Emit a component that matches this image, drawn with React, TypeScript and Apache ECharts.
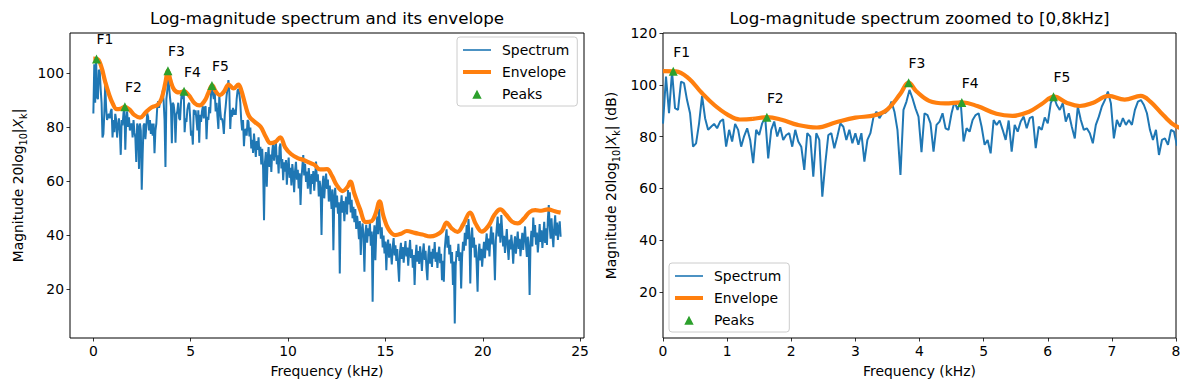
import React, { useEffect, useRef } from 'react';
import * as echarts from 'echarts';

const FONT = 'DejaVu Sans';

// FFT bin spacing: 48 kHz sampling, 1024-point FFT
const binWidthKHz = 48 / 1024;

// Log-magnitude spectrum, one value per FFT bin (0 .. 24 kHz)
const spectrumDb = [
  85.0, 103.2, 89.0, 105.1, 91.0, 90.3, 101.2, 100.6, 94.1, 89.0,
  76.1, 77.4, 85.1, 95.7, 87.1, 82.6, 83.8, 84.9, 83.2, 85.8,
  86.7, 76.1, 82.6, 78.1, 84.9, 82.6, 76.1, 80.2, 83.2, 78.7,
  69.7, 82.6, 80.6, 85.1, 87.4, 71.6, 82.6, 85.8, 80.0, 83.6,
  78.7, 80.6, 81.3, 76.1, 82.6, 78.1, 76.1, 67.1, 81.3, 80.0,
  64.5, 81.3, 78.7, 56.8, 69.7, 80.6, 81.3, 75.5, 80.0, 85.1,
  83.8, 78.7, 82.6, 77.4, 81.3, 76.8, 81.3, 70.3, 78.7, 81.3,
  87.4, 89.6, 87.1, 89.0, 89.2, 90.3, 93.5, 89.6, 82.6, 65.2,
  90.3, 93.5, 98.0, 94.8, 90.9, 87.7, 74.0, 89.0, 88.3, 85.1,
  74.2, 84.5, 85.8, 89.0, 83.2, 82.6, 89.0, 93.5, 90.3, 93.9,
  78.1, 83.2, 81.9, 86.4, 88.3, 89.0, 83.8, 76.8, 78.7, 73.5,
  86.4, 84.5, 86.2, 82.6, 78.7, 86.2, 74.2, 84.5, 81.9, 85.8,
  87.7, 83.2, 87.1, 87.7, 75.5, 83.8, 82.6, 87.4, 85.1, 92.9,
  95.4, 92.2, 90.3, 92.9, 85.8, 89.0, 83.8, 79.3, 91.6, 86.4,
  82.6, 83.2, 81.3, 77.4, 84.5, 87.7, 91.6, 94.1, 97.4, 92.9,
  79.3, 86.4, 83.8, 87.1, 84.5, 86.4, 84.5, 90.3, 93.5, 94.1,
  92.2, 89.0, 82.6, 78.7, 82.6, 72.9, 78.7, 79.3, 76.8, 82.6,
  81.9,
  76.5, 79.8, 72.1, 75.3, 70.4, 77.6, 73.2, 68.9, 74.8, 71.5,
  76.2, 69.3, 72.7, 66.1, 71.9, 64.5, 45.5, 66.8, 70.7, 57.9,
  68.4, 72.6, 65.2, 69.8, 63.4, 70.9, 74.1, 67.5, 71.3, 74.6,
  66.2, 69.5, 62.8, 72.4, 73.9, 64.7, 68.1, 60.3, 66.9, 63.5,
  67.8, 58.6, 65.3, 68.7, 61.2, 64.9, 58.4, 66.3, 62.7, 55.9,
  63.8, 67.1, 60.5, 64.2, 57.3, 62.9, 51.1, 60.8, 65.4, 69.6,
  62.1, 66.4, 59.7, 63.5, 57.2, 64.8, 60.3, 55.1, 62.6, 58.9,
  63.7, 56.4, 61.2, 67.2, 59.8, 62.5, 54.3, 60.1, 56.7, 40.0,
  58.2, 61.9, 53.6, 59.4, 62.8, 57.1, 60.6, 52.4, 58.3, 55.0,
  49.7, 56.9, 34.4, 53.8, 57.5, 50.2, 54.6, 47.9, 52.1, 25.8,
  50.4, 54.7, 48.3, 52.6, 45.1, 50.9, 54.2, 47.6, 56.7, 51.3,
  55.8, 48.4, 53.1, 46.2, 50.5, 44.8, 49.6, 42.3, 47.1, 43.9,
  38.5, 45.2, 32.6, 41.7, 44.3, 38.9, 26.4, 40.6, 43.8, 37.2,
  42.5, 39.6, 44.7, 36.1, 41.3, 15.3, 38.4, 43.6, 30.7, 41.2,
  46.9, 40.3, 49.8, 44.1, 38.7, 42.9, 35.4, 39.8, 33.2, 37.6,
  27.0, 35.9, 38.3, 31.6, 36.8, 33.4, 29.1, 35.7, 38.9, 32.5,
  36.2, 30.4, 34.8, 28.3, 22.7, 33.9, 37.1, 31.2, 35.6, 29.8,
  34.3, 37.8, 32.1, 35.4, 28.7, 33.9, 38.2, 31.5, 34.7, 27.9,
  32.6, 21.5, 31.8, 36.4, 30.2, 34.1, 29.3, 35.8, 32.4, 26.7,
  33.5, 36.9, 30.8, 34.2, 27.5, 23.3, 32.7, 36.1, 29.4, 33.8,
  28.2, 34.9, 31.3, 37.4, 30.1, 33.6, 27.8, 32.9, 35.7, 29.6,
  33.1, 23.3, 30.5, 22.7, 34.6, 38.9, 42.1, 35.3, 39.7, 32.8,
  36.4, 29.5, 33.7, 21.5, 30.2, 7.3, 28.6, 34.1, 31.9, 36.8,
  30.4, 33.6, 20.2, 31.7, 37.5, 34.2, 40.8, 36.1, 43.7, 38.5,
  45.9, 40.2, 22.1, 37.6, 42.8, 35.3, 39.1, 31.7, 36.4, 28.9,
  19.0, 33.5, 36.8, 30.6, 34.9, 28.3, 33.2, 37.5, 31.4, 36.9,
  40.6, 34.3, 38.7, 32.1, 39.4, 43.2, 36.5, 40.9, 34.2, 23.3,
  38.1, 42.7, 46.8, 39.5, 44.3, 37.2, 47.4, 41.6, 35.8, 39.7,
  33.4, 37.9, 42.2, 35.6, 30.8, 38.3, 34.7, 40.1, 36.2, 29.4,
  35.8, 39.5, 33.1, 37.4, 41.3, 34.9, 38.6, 32.2, 36.7, 40.8,
  34.5, 38.9, 43.2, 36.7, 31.9, 39.4, 35.1, 17.8, 37.3, 41.6,
  35.8, 46.5, 39.2, 43.7, 36.4, 40.9, 33.6, 38.2, 44.1, 37.5,
  41.8, 35.2, 39.6, 44.9, 37.1, 42.5, 36.3, 45.8, 51.1, 43.4,
  38.7, 46.2, 40.1, 35.5, 42.9, 47.3, 39.8, 44.6, 38.2, 42.7,
  45.1, 39.4,
];

// Spectral envelope (kHz, dB)
const envelopeFreq = [
  0, 0.2, 0.4, 0.6, 0.8, 1.0, 1.2, 1.4, 1.62, 1.85,
  2.1, 2.4, 2.7, 3.0, 3.3, 3.5, 3.7, 3.83, 3.95, 4.15,
  4.4, 4.66, 4.9, 5.2, 5.45, 5.7, 5.9, 6.1, 6.3, 6.5,
  6.7, 6.95, 7.2, 7.45, 7.6, 7.8, 8.0, 8.3, 8.6, 8.85,
  9.1, 9.35, 9.6, 9.85, 10.15, 10.5, 10.8, 11.1, 11.35, 11.65,
  12.0, 12.25, 12.5, 12.8, 13.05, 13.2, 13.4, 13.7, 14.0, 14.3,
  14.5, 14.7, 14.9, 15.15, 15.5, 15.8, 16.1, 16.5, 16.9, 17.3,
  17.6, 17.9, 18.15, 18.4, 18.7, 19.0, 19.35, 19.65, 19.95, 20.3,
  20.6, 20.9, 21.2, 21.5, 21.8, 22.1, 22.4, 22.7, 23.0, 23.35,
  23.7, 24.0,
];
const envelopeDb = [
  105.3, 105.2, 102.5, 97.0, 92.2, 88.6, 86.6, 86.8, 87.5, 86.5,
  84.5, 83.5, 85.5, 87.3, 88.2, 90.5, 96.5, 100.8, 97.5, 93.8,
  92.8, 93.2, 91.8, 88.8, 88.0, 89.5, 92.5, 95.4, 93.0, 91.8,
  93.0, 95.7, 94.3, 95.7, 93.5, 88.3, 84.0, 81.8, 80.0, 76.5,
  74.0, 74.5, 76.2, 72.5, 70.0, 68.5, 67.8, 66.8, 66.0, 64.3,
  64.4, 62.0, 58.5, 56.3, 57.8, 59.8, 55.5, 49.5, 44.8, 45.2,
  48.0, 52.5, 47.0, 42.3, 40.0, 40.5, 41.5, 40.8, 40.2, 39.5,
  40.0, 41.5, 44.6, 42.5, 41.2, 44.0, 48.3, 44.0, 41.3, 43.5,
  47.5, 49.5, 47.5, 45.0, 44.3, 46.0, 48.5, 49.2, 49.0, 49.5,
  48.8, 48.3,
];

// Formant peaks
const peakFreq = [0.16, 1.62, 3.83, 4.66, 6.09];
const peakDb = [105.2, 87.5, 100.8, 93.2, 95.4];
const peakLabels = ['F1', 'F2', 'F3', 'F4', 'F5'];

// Tick labels
const leftXTicks = [0, 5, 10, 15, 20, 25];
const leftYTicks = [20, 40, 60, 80, 100];
const rightXTicks = [0, 1, 2, 3, 4, 5, 6, 7, 8];
const rightYTicks = [20, 40, 60, 80, 100, 120];

const BLUE = '#1f77b4';
const ORANGE = '#ff7f0e';
const GREEN = '#2ca02c';
const FS = 13.9;

export default function App() {
  const ref = useRef<HTMLDivElement>(null);

  useEffect(() => {
    if (!ref.current) return;
    const chart = echarts.init(ref.current, undefined, { renderer: 'svg' });

    const spectrumData = spectrumDb.map((v, i) => [i * binWidthKHz, v]);
    const envelopeData = envelopeFreq.map((f, i) => [f, envelopeDb[i]]);
    const peakData = peakFreq.map((f, i) => [f, peakDb[i]]);

    const tickStyle = { show: true, inside: false, length: 3.5, lineStyle: { color: '#000', width: 0.8 } };
    const labelStyle = { color: '#000', fontSize: FS, fontFamily: FONT, margin: 6 };
    const nameStyle = {
      color: '#000', fontSize: FS, fontFamily: FONT, lineHeight: 20,
      rich: {
        it: { fontStyle: 'italic', fontSize: FS, fontFamily: FONT, color: '#000', lineHeight: 20 },
        sub: { fontSize: 9.7, fontFamily: FONT, color: '#000', lineHeight: 10, verticalAlign: 'bottom' },
      },
    };

    const xAxis = (gridIndex: number, min: number, max: number, ticks: number[]) => ({
      type: 'value', gridIndex, min, max,
      axisLine: { show: false, onZero: false },
      axisTick: { ...tickStyle, customValues: ticks },
      axisLabel: { ...labelStyle, customValues: ticks },
      splitLine: { show: false },
      name: 'Frequency (kHz)', nameLocation: 'middle', nameGap: 26,
      nameTextStyle: { color: '#000', fontSize: FS, fontFamily: FONT },
    });
    const yAxis = (gridIndex: number, min: number, max: number, ticks: number[], name: string) => ({
      type: 'value', gridIndex, min, max,
      axisLine: { show: false, onZero: false },
      axisTick: { ...tickStyle, customValues: ticks },
      axisLabel: { ...labelStyle, customValues: ticks },
      splitLine: { show: false },
      name, nameLocation: 'middle', nameGap: 42, nameRotate: 90,
      nameTextStyle: nameStyle,
    });

    const legendIcons = {
      Spectrum: 'path://M0,0h28v1.6h-28z',
      Envelope: 'path://M0,0h28v4h-28z',
      Peaks: 'path://M0,0L0.01,0M28,14L28.01,14M9.3,11.8L18.7,11.8L14,2.8Z',
    };
    const legendText = {
      color: '#000', fontSize: FS, fontFamily: FONT, fontWeight: 'normal',
      textBorderWidth: 0, textShadowBlur: 0, padding: [0, 0, 0, 6],
    };
    const legend = (left: number, top: number) => ({
      orient: 'vertical', left, top,
      itemWidth: 28, itemHeight: 14, itemGap: 8,
      padding: [6, 8, 5, 6],
      backgroundColor: 'rgba(255,255,255,0.8)',
      borderColor: '#cccccc', borderWidth: 1, borderRadius: 3,
      selectedMode: false,
      itemStyle: { borderWidth: 0 },
      lineStyle: { width: 0 },
      textStyle: legendText,
      data: (['Spectrum', 'Envelope', 'Peaks'] as const).map((n) => ({
        name: n, icon: legendIcons[n], textStyle: legendText,
      })),
    });

    const seriesFor = (idx: number) => [
      {
        name: 'Spectrum', type: 'line', xAxisIndex: idx, yAxisIndex: idx,
        data: spectrumData, showSymbol: false, symbol: 'none', clip: true,
        lineStyle: { color: BLUE, width: 2 }, itemStyle: { color: BLUE }, z: 2,
      },
      {
        name: 'Envelope', type: 'line', xAxisIndex: idx, yAxisIndex: idx,
        data: envelopeData, showSymbol: false, symbol: 'none', smooth: 0.4, clip: true,
        lineStyle: { color: ORANGE, width: 4.2 }, itemStyle: { color: ORANGE }, z: 3,
      },
      {
        name: 'Peaks', type: 'scatter', xAxisIndex: idx, yAxisIndex: idx,
        data: peakData, symbol: 'triangle', symbolSize: 9,
        itemStyle: { color: GREEN, opacity: 1 }, z: 4,
        label: {
          show: true, position: 'top', distance: 8, align: 'left',
          formatter: (p: any) => peakLabels[p.dataIndex],
          color: '#000', fontSize: FS, fontFamily: FONT,
        },
      },
    ];

    const yName = 'Magnitude 20log{sub|10}|{it|X}{sub|k}|';

    chart.setOption({
      animation: false,
      backgroundColor: '#fff',
      textStyle: { fontFamily: FONT },
      title: [
        {
          text: 'Log-magnitude spectrum and its envelope', left: 327, top: 9, textAlign: 'center', padding: 0,
          textStyle: { color: '#000', fontSize: 16.7, fontWeight: 'normal', fontFamily: FONT },
        },
        {
          text: 'Log-magnitude spectrum zoomed to [0,8kHz]', left: 919.5, top: 9, textAlign: 'center', padding: 0,
          textStyle: { color: '#000', fontSize: 16.7, fontWeight: 'normal', fontFamily: FONT },
        },
      ],
      grid: [
        { left: 70, top: 33, width: 514, height: 305, show: true, borderColor: '#000', borderWidth: 1, backgroundColor: 'transparent' },
        { left: 663, top: 33, width: 513, height: 305, show: true, borderColor: '#000', borderWidth: 1, backgroundColor: 'transparent' },
      ],
      xAxis: [xAxis(0, -1.2, 25.2, leftXTicks), xAxis(1, 0, 8, rightXTicks)],
      yAxis: [
        yAxis(0, 1.9, 114.8, leftYTicks, yName),
        yAxis(1, 2.2, 120, rightYTicks, yName + ' (dB)'),
      ],
      legend: [legend(457, 37), legend(669, 263)],
      series: [...seriesFor(0), ...seriesFor(1)],
    });

    return () => chart.dispose();
  }, []);

  return (
    <div
      ref={ref}
      style={{ position: 'fixed', left: 0, top: 0, width: 1189, height: 390, background: '#fff' }}
    />
  );
}
